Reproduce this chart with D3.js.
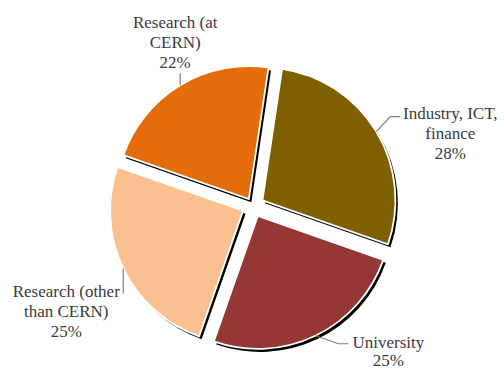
<!DOCTYPE html>
<html>
<head>
<meta charset="utf-8">
<script src="https://cdn.jsdelivr.net/npm/d3@7"></script>
<style>
  html, body { margin: 0; padding: 0; background: #ffffff; }
  svg { display: block; }
</style>
</head>
<body>
<div id="chart"></div>
<script>
  // Sector shares, clockwise from just past 12 o'clock
  const categories = ["Industry, ICT, finance", "University", "Research (other than CERN)", "Research (at CERN)"];
  const shares = [28, 25, 25, 22];
  const labelLines = [
    ["Industry, ICT,", "finance", "28%"],
    ["University", "25%"],
    ["Research (other", "than CERN)", "25%"],
    ["Research (at", "CERN)", "22%"],
  ];
  const colors = ["#7f6000", "#953735", "#fac090", "#e46c0a"];

  (function () {
    const width = 504;
    const height = 371;
    const cx = 253;
    const cy = 206;
    const radius = 133;
    const explode = [11, 11, 11, 8];
    const startAngle = (8.5 * Math.PI) / 180;

    // leader elbow / end and text centre, relative to the point on the rim
    const labelLayout = [
      { path: [[14, -15], [24, -15]], tx: 74, ty: -13, lh: 20 },
      { path: [[23, 8], [33, 8]], tx: 73, ty: 12, lh: 18 },
      { path: [[0, 25]], tx: -57, ty: 29, lh: 20 },
      { path: [[0, -12]], tx: -5, ty: -57, lh: 20 },
    ];

    const data = categories.map((name, i) => ({ name, value: shares[i], lines: labelLines[i], color: colors[i], layout: labelLayout[i], explode: explode[i] }));

    const svg = d3.select("#chart").append("svg").attr("width", width).attr("height", height);

    const pie = d3.pie().sort(null).value((d) => d.value).startAngle(startAngle).endAngle(startAngle + 2 * Math.PI);
    const arcs = pie(data);
    const arc = d3.arc().innerRadius(0).outerRadius(radius);
    const rim = d3.arc().innerRadius(radius).outerRadius(radius);

    const offsetOf = (d) => {
      const mid = (d.startAngle + d.endAngle) / 2;
      return [cx + d.data.explode * Math.sin(mid), cy - d.data.explode * Math.cos(mid)];
    };

    const slices = svg
      .append("g")
      .selectAll("g")
      .data(arcs)
      .join("g")
      .attr("transform", (d) => `translate(${offsetOf(d)})`);

    slices
      .append("path")
      .attr("d", arc)
      .attr("fill", "#000000")
      .attr("transform", "translate(2.5,3)");

    slices
      .append("path")
      .attr("d", arc)
      .attr("fill", (d) => d.data.color)
      .attr("stroke", "#ffffff")
      .attr("stroke-width", 1.8)
      .attr("stroke-linejoin", "miter");

    const labels = svg.append("g");

    arcs.forEach((d) => {
      const [ox, oy] = offsetOf(d);
      const [rx, ry] = rim.centroid(d);
      const sx = ox + rx;
      const sy = oy + ry;
      const layout = d.data.layout;
      const points = [[sx, sy]].concat(layout.path.map(([dx, dy]) => [sx + dx, sy + dy]));
      labels
        .append("path")
        .attr("d", d3.line()(points))
        .attr("fill", "none")
        .attr("stroke", "#7f7f7f")
        .attr("stroke-width", 1.2);
      const text = labels
        .append("text")
        .style("font-family", "Liberation Serif")
        .style("font-size", "17px")
        .style("fill", "#3a3a3a")
        .attr("text-anchor", "middle")
        .attr("x", sx + layout.tx)
        .attr("y", sy + layout.ty);
      d.data.lines.forEach((line, i) => {
        text
          .append("tspan")
          .attr("x", sx + layout.tx)
          .attr("dy", i === 0 ? 0 : layout.lh)
          .text(line);
      });
    });
  })();
</script>
</body>
</html>
